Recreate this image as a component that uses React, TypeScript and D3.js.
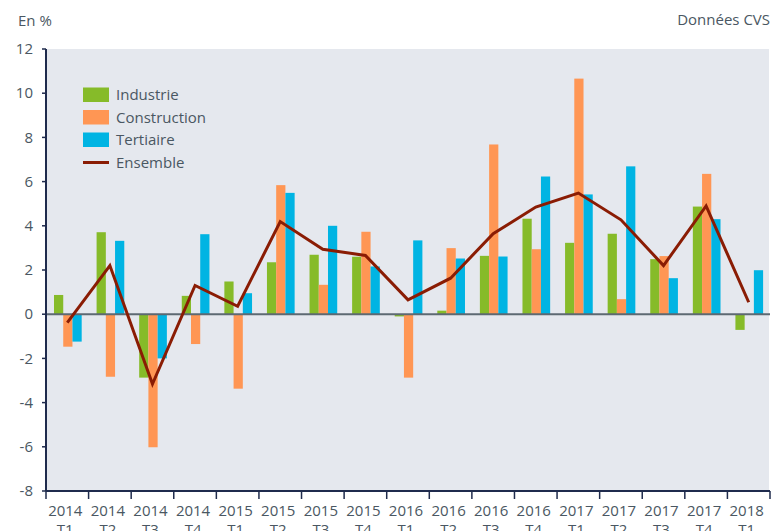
import * as d3 from "d3";

const categories = [
  "2014 T1", "2014 T2", "2014 T3", "2014 T4",
  "2015 T1", "2015 T2", "2015 T3", "2015 T4",
  "2016 T1", "2016 T2", "2016 T3", "2016 T4",
  "2017 T1", "2017 T2", "2017 T3", "2017 T4",
  "2018 T1",
];

const industrie = [0.87, 3.71, -2.87, 0.83, 1.48, 2.35, 2.69, 2.6, -0.1, 0.16, 2.64, 4.32, 3.23, 3.64, 2.49, 4.87, -0.71];
const construction = [-1.47, -2.83, -6.02, -1.35, -3.37, 5.84, 1.33, 3.73, -2.87, 2.99, 7.68, 2.94, 10.66, 0.68, 2.63, 6.35, 0];
const tertiaire = [-1.24, 3.32, -2.0, 3.62, 0.95, 5.49, 4.0, 2.16, 3.34, 2.52, 2.61, 6.23, 5.42, 6.69, 1.63, 4.3, 1.99];
const ensemble = [-0.38, 2.2, -3.16, 1.3, 0.36, 4.19, 2.94, 2.66, 0.65, 1.63, 3.64, 4.85, 5.48, 4.27, 2.2, 4.9, 0.54];

const yTicks = [12, 10, 8, 6, 4, 2, 0, -2, -4, -6, -8];

const seriesNames = ["Industrie", "Construction", "Tertiaire"];
const seriesColors = ["#86bb29", "#ff9654", "#00b4e3"];
const lineColor = "#8a1c04";
const textColor = "#4a5762";
const font = "'Open Sans', 'Noto Sans', sans-serif";

const W = 772;
const H = 531;
const left = 46;
const right = 770;
const top = 49;
const bottom = 491;

export default function App() {
  const x = d3.scaleBand<string>().domain(categories).range([left, right]).padding(0);
  const y = d3.scaleLinear().domain([-8, 12]).range([bottom, top]);
  const bw = x.bandwidth();
  // three bars per quarter, slightly right of the band centre
  const xs = d3.scaleBand<string>().domain(seriesNames).range([bw * 0.188, bw * 0.838]).padding(0);
  const cx = (c: string) => (x(c) ?? 0) + bw / 2;

  const series = [industrie, construction, tertiaire];

  const line = d3
    .line<number>()
    .x((_, i) => cx(categories[i]))
    .y((d) => y(d));

  const boundaries = categories.map((c) => x(c) ?? 0).concat([right]);

  return (
    <svg
      width={W}
      height={H}
      style={{ position: "absolute", left: 0, top: 0, background: "#fff" }}
      fontFamily={font}
    >
      <rect x={left} y={top} width={right - 1 - left} height={bottom - top} fill="#e5e8ee" />

      {/* bars */}
      {series.map((vals, si) =>
        vals.map((v, i) => {
          const c = categories[i];
          const bx = (x(c) ?? 0) + (xs(seriesNames[si]) ?? 0);
          return (
            <rect
              key={`${si}-${i}`}
              x={bx}
              y={y(Math.max(0, v))}
              width={xs.bandwidth()}
              height={Math.abs(y(v) - y(0))}
              fill={seriesColors[si]}
            />
          );
        })
      )}

      {/* zero line */}
      <line x1={left} x2={right} y1={y(0)} y2={y(0)} stroke="#5d6972" strokeWidth={2} />

      {/* ensemble line */}
      <path d={line(ensemble) ?? ""} fill="none" stroke={lineColor} strokeWidth={3} />

      {/* y axis */}
      <line x1={left} x2={left} y1={top} y2={bottom} stroke="#1f2b4d" strokeWidth={2} />
      {yTicks.map((t) => (
        <g key={t}>
          <line x1={left - 4} x2={left} y1={y(t)} y2={y(t)} stroke="#1f2b4d" strokeWidth={1.5} />
          <text x={33} y={y(t)} dy="0.35em" textAnchor="end" fontSize={15} fill={textColor}>
            {t}
          </text>
        </g>
      ))}

      {/* x axis */}
      <line x1={left} x2={right} y1={bottom} y2={bottom} stroke="#1f2b4d" strokeWidth={2} />
      {boundaries.map((b, i) => (
        <line key={i} x1={b} x2={b} y1={bottom} y2={bottom + 8} stroke="#1f2b4d" strokeWidth={1.5} />
      ))}
      {categories.map((c) => {
        const [yr, q] = c.split(" ");
        return (
          <g key={c}>
            <text x={cx(c) - 2} y={516} textAnchor="middle" fontSize={15} fill={textColor}>{yr}</text>
            <text x={cx(c) - 2} y={535} textAnchor="middle" fontSize={15} fill={textColor}>{q}</text>
          </g>
        );
      })}

      {/* titles */}
      <text x={18} y={26} fontSize={15} fill={textColor}>En %</text>
      <text x={770} y={25} fontSize={15} fill={textColor} textAnchor="end">Données CVS</text>

      {/* legend */}
      {seriesNames.map((n, i) => (
        <g key={n} transform={`translate(83, ${87.5 + i * 22.5})`}>
          <rect width={26} height={14.5} fill={seriesColors[i]} />
          <text x={33} y={7.5} dy="0.35em" fontSize={15} fill={textColor}>{n}</text>
        </g>
      ))}
      <g transform={`translate(83, ${87.5 + 3 * 22.5})`}>
        <line x1={0} x2={26} y1={7.5} y2={7.5} stroke={lineColor} strokeWidth={3} />
        <text x={33} y={7.5} dy="0.35em" fontSize={15} fill={textColor}>Ensemble</text>
      </g>
    </svg>
  );
}
